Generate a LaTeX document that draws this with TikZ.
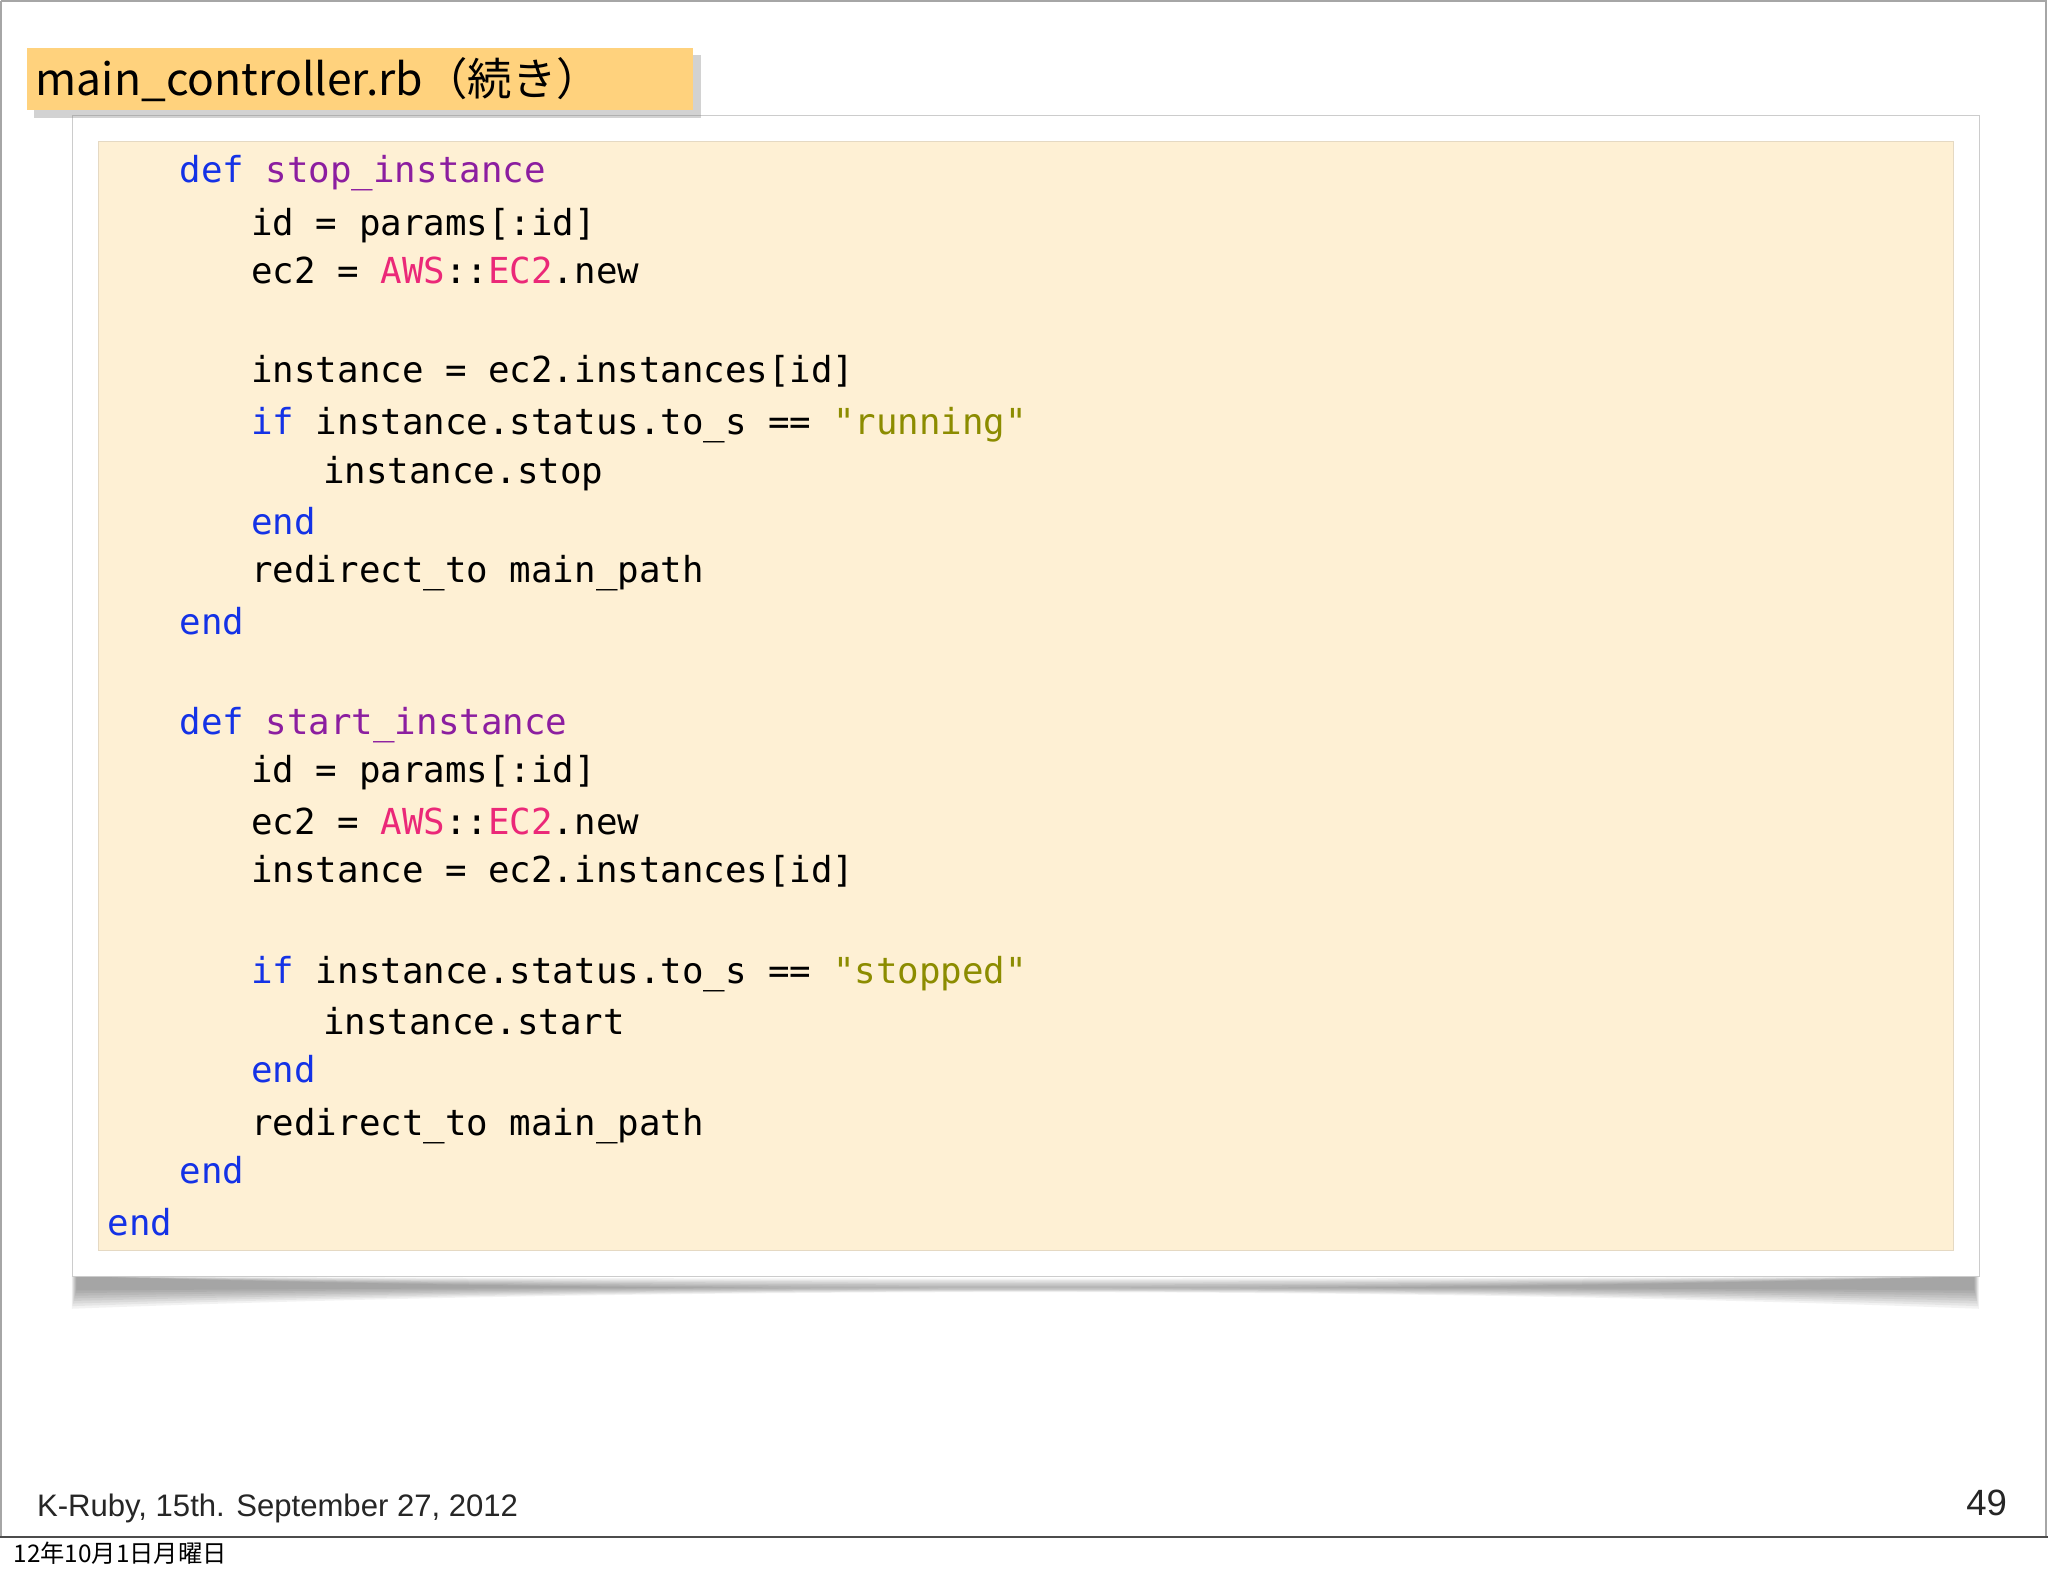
\documentclass[tikz,border=0pt]{standalone}
\usepackage{fontspec}
\setmonofont{DejaVu Sans Mono}
\newfontfamily\jpfont{Noto Sans CJK JP}
\newfontfamily\footfont{Liberation Sans}
\usetikzlibrary{shadows}
\definecolor{kw}{RGB}{20,50,230}
\definecolor{fn}{RGB}{140,30,160}
\definecolor{cn}{RGB}{235,40,120}
\definecolor{st}{RGB}{140,140,0}
\definecolor{codebg}{RGB}{254,240,212}
\definecolor{titlebg}{RGB}{255,210,125}
\tikzset{codeline/.style={anchor=base west,inner sep=0pt,font=\fontsize{13.7pt}{16pt}\ttfamily}}
\newcommand{\K}[1]{\textcolor{kw}{#1}}
\newcommand{\F}[1]{\textcolor{fn}{#1}}
\newcommand{\C}[1]{\textcolor{cn}{#1}}
\newcommand{\Sq}[1]{\textcolor{st}{#1}}
\begin{document}
\begin{tikzpicture}[x=0.5pt,y=-0.5pt]
\useasboundingbox (0,0) rectangle (1568,1207);
\fill[white] (0,0) rectangle (1568,1207);
\draw[gray!70,line width=0.8pt] (0.5,0.5) -- (1566.5,0.5) -- (1566.5,1177) (0.5,0.5) -- (0.5,1177);
\draw[black!70,line width=0.8pt] (0,1177) -- (1568,1177);
% card shadow
\foreach \i in {0,...,7}{
  \fill[black,opacity=0.05] (55+\i*0.5,977) .. controls (500,990-\i*1.5) and (1070,990-\i*1.5) .. (1515-\i*0.5,977) -- (1515-\i*0.5,1002-\i*2) .. controls (1070,985) and (500,985) .. (55+\i*0.5,1002-\i*2) -- cycle;
}
\node[draw=gray!40,fill=white,minimum width=730pt,minimum height=444.5pt,inner sep=0pt,anchor=north west] (card) at (55,88) {};
\node[draw=codebg!80!gray,fill=codebg,minimum width=710pt,minimum height=424.5pt,inner sep=0pt,anchor=north west] (code) at (75,108) {};
% title
\node[fill=titlebg,drop shadow={opacity=0.35,shadow xshift=3pt,shadow yshift=-3pt},minimum width=255pt,minimum height=24pt,inner sep=0pt,anchor=north west] (title) at (20,36) {};
\node[anchor=base west,inner sep=0pt,font=\jpfont\fontsize{17pt}{20pt}\selectfont] (tt) at (27,73) {main\_controller.rb（続き）};
% code
\node[codeline] (l1) at (137,140) {\K{def} \F{stop\_instance}};
\node[codeline] (l2) at (192,180) {id = params[:id]};
\node[codeline] (l3) at (192,217) {ec2 = \C{AWS}::\C{EC2}.new};
\node[codeline] (l4) at (192,293) {instance = ec2.instances[id]};
\node[codeline] (l5) at (192,333) {\K{if} instance.status.to\_s == \Sq{"running"}};
\node[codeline] (l6) at (247,370) {instance.stop};
\node[codeline] (l7) at (192,409) {\K{end}};
\node[codeline] (l8) at (192,446) {redirect\_to main\_path};
\node[codeline] (l9) at (137,486) {\K{end}};
\node[codeline] (m1) at (137,562) {\K{def} \F{start\_instance}};
\node[codeline] (m2) at (192,599) {id = params[:id]};
\node[codeline] (m3) at (192,639) {ec2 = \C{AWS}::\C{EC2}.new};
\node[codeline] (m4) at (192,676) {instance = ec2.instances[id]};
\node[codeline] (m5) at (192,753) {\K{if} instance.status.to\_s == \Sq{"stopped"}};
\node[codeline] (m6) at (247,792) {instance.start};
\node[codeline] (m7) at (192,829) {\K{end}};
\node[codeline] (m8) at (192,869) {redirect\_to main\_path};
\node[codeline] (m9) at (137,906) {\K{end}};
\node[codeline] (m10) at (82,946) {\K{end}};
% footer
\node[anchor=base west,inner sep=0pt,font=\footfont\fontsize{11.9pt}{13pt}\selectfont,text=black!85] (foot) at (28,1161) {K-Ruby, 15th. September 27, 2012};
\node[anchor=base east,inner sep=0pt,font=\footfont\fontsize{14pt}{15pt}\selectfont,text=black!85] (num) at (1537,1160) {49};
\node[anchor=base west,inner sep=0pt,font=\jpfont\fontsize{9.3pt}{10pt}\selectfont] (date) at (10,1196) {12年10月1日月曜日};
\end{tikzpicture}
\end{document}
